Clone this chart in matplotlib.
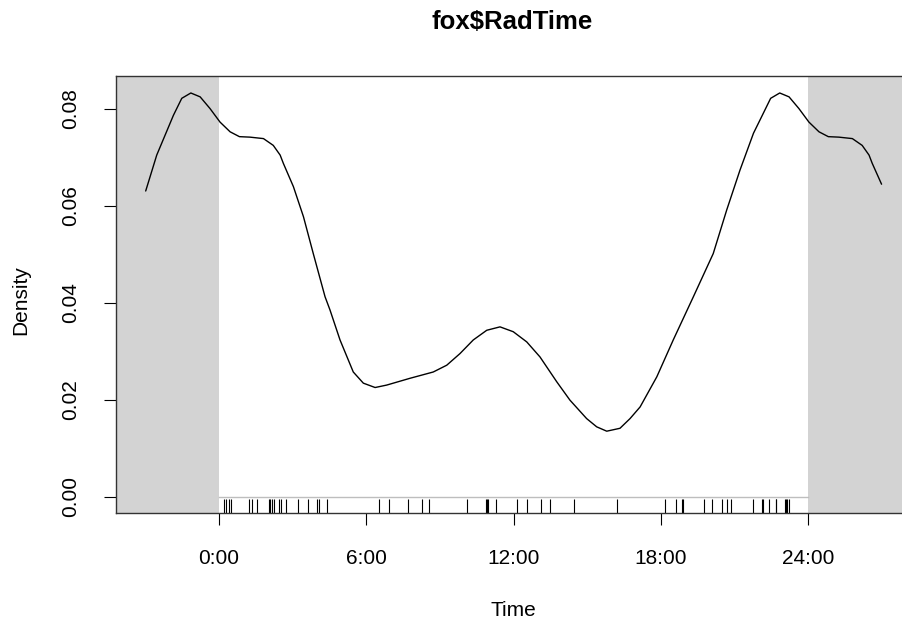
import matplotlib
matplotlib.use("Agg")
import matplotlib.pyplot as plt
import matplotlib.transforms as mtransforms

plt.rcParams['font.family'] = ['Liberation Sans', 'DejaVu Sans']

# density curve (hours, density)
hours = [-2.99, -2.54, -2.20, -1.86, -1.52, -1.15, -0.77, -0.37, 0.04, 0.45,
         0.83, 1.26, 1.81, 2.21, 2.49, 2.62, 3.03, 3.44, 3.84, 4.32,
         4.52, 4.93, 5.47, 5.88, 6.36, 6.83, 7.78, 8.73, 9.28, 9.82,
         10.36, 10.91, 11.45, 11.99, 12.54, 13.08, 13.76, 14.30, 14.98, 15.39,
         15.80, 16.34, 16.75, 17.16, 17.84, 18.51, 19.33, 20.14, 20.69, 21.23,
         21.78, 22.14, 22.48, 22.85, 23.23, 23.63, 24.04, 24.45, 24.83, 25.26,
         25.81, 26.21, 26.49, 26.62, 27.0]
density = [0.0630, 0.0704, 0.0745, 0.0786, 0.0821, 0.0832, 0.0824, 0.0800, 0.0772, 0.0752,
           0.0742, 0.0741, 0.0738, 0.0724, 0.0704, 0.0687, 0.0639, 0.0577, 0.0501, 0.0412,
           0.0385, 0.0323, 0.0257, 0.0234, 0.0225, 0.0230, 0.0244, 0.0257, 0.0271, 0.0295,
           0.0323, 0.0343, 0.0350, 0.0340, 0.0319, 0.0288, 0.0237, 0.0199, 0.0161, 0.0144,
           0.0135, 0.0141, 0.0161, 0.0185, 0.0247, 0.0323, 0.0412, 0.0501, 0.0591, 0.0673,
           0.0749, 0.0786, 0.0821, 0.0832, 0.0824, 0.0800, 0.0772, 0.0752, 0.0742, 0.0741,
           0.0738, 0.0724, 0.0704, 0.0687, 0.0644]

# rug: observed times (hours)
rug_times = [0.22, 0.27, 0.42, 0.48, 1.23, 1.36, 1.54, 2.03, 2.08, 2.16,
             2.25, 2.46, 2.51, 2.73, 3.23, 3.64, 3.98, 4.09, 4.41, 6.53,
             6.93, 7.71, 8.28, 8.56, 10.09, 10.88, 10.92, 10.97, 11.29, 12.13,
             12.54, 13.11, 13.49, 14.47, 16.21, 18.19, 18.62, 18.88, 18.92, 19.78,
             20.10, 20.51, 20.69, 20.86, 21.75, 22.11, 22.16, 22.42, 22.69, 22.71,
             23.06, 23.10, 23.16, 23.22]

xticks = [0, 6, 12, 18, 24]
xtick_labels = ['0:00', '6:00', '12:00', '18:00', '24:00']
yticks = [0.00, 0.02, 0.04, 0.06, 0.08]

W, H = 903, 624
fig = plt.figure(figsize=(W / 100, H / 100), dpi=100)
ax = fig.add_axes([116 / W, 1 - 513 / H, (911 - 116) / W, (513 - 76) / H])

xmin, xmax = -4.2, 28.2
ymin, ymax = -0.00336, 0.0867
ax.set_xlim(xmin, xmax)
ax.set_ylim(ymin, ymax)

# grey out-of-day regions
ax.axvspan(xmin, 0, color='#D3D3D3', lw=0, zorder=0)
ax.axvspan(24, xmax, color='#D3D3D3', lw=0, zorder=0)

ax.plot(hours, density, color='black', lw=1.0, zorder=3,
        solid_joinstyle='round', solid_capstyle='round')

# baseline and rug
ax.plot([0, 24], [0, 0], color='#BEBEBE', lw=1.0, zorder=2)
trans = mtransforms.blended_transform_factory(ax.transData, ax.transAxes)
ax.vlines(rug_times, 0, 0.031, transform=trans, color='black', lw=0.8, zorder=2)

ax.set_xticks(xticks)
ax.set_xticklabels(xtick_labels)
ax.set_yticks(yticks)
ax.set_yticklabels(['%.2f' % v for v in yticks], rotation=90, va='center')
ax.tick_params(axis='both', direction='out', length=8.6, width=0.8,
               labelsize=15, color='black')
ax.tick_params(axis='x', pad=17)
ax.tick_params(axis='y', pad=17)
for s in ax.spines.values():
    s.set_color('#333333')
    s.set_linewidth(1.0)

fig.text(512 / W, 1 - 22 / H, 'fox$RadTime', ha='center', va='center',
         fontsize=18.5, fontweight='bold')
fig.text(513 / W, 1 - 610 / H, 'Time', ha='center', va='center', fontsize=15)
fig.text(21 / W, 1 - 300 / H, 'Density', ha='center', va='center',
         fontsize=15, rotation=90)

fig.savefig('out.png', dpi=100)
